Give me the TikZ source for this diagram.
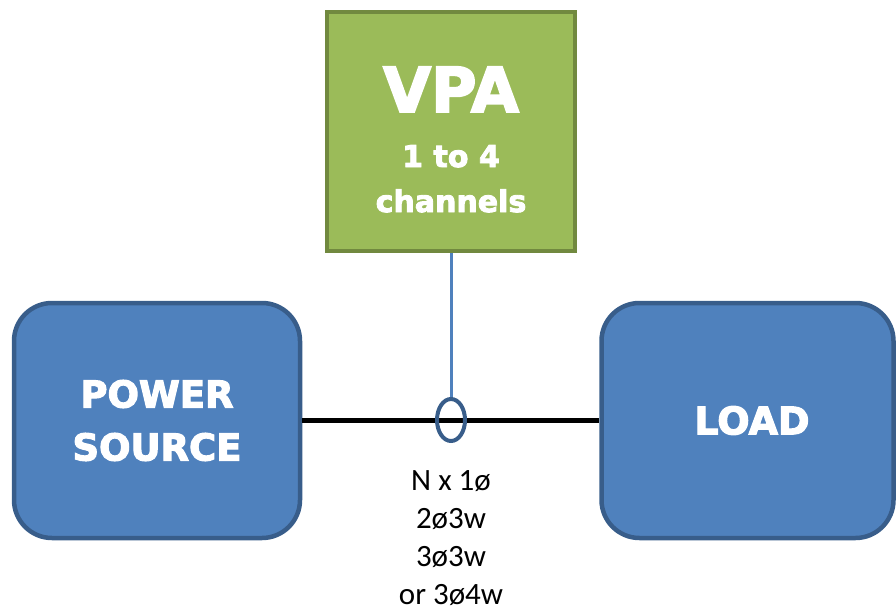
\documentclass[tikz,border=0pt]{standalone}
\usepackage{fontspec}
\setmainfont{Carlito}
\newfontfamily\blockfont{DejaVu Sans}[BoldFeatures={FakeBold=3}]
\usepackage{tikz}
\usetikzlibrary{positioning,shapes}

\definecolor{vpagreen}{HTML}{9BBB59}
\definecolor{vpaedge}{HTML}{71893F}
\definecolor{boxblue}{HTML}{4F81BD}
\definecolor{boxedge}{HTML}{385D8A}

\tikzset{
  vpabox/.style={draw=vpaedge, fill=vpagreen, line width=4.5pt, minimum width=248pt,
    minimum height=239pt, inner sep=0pt},
  vpatext/.style={text=white, inner sep=0pt, anchor=base},
  endbox/.style={draw=boxedge, fill=boxblue, line width=4.5pt, rounded corners=38pt,
    minimum height=235pt, text=white, align=center, inner sep=0pt,
    font=\blockfont\bfseries\fontsize{37}{53}\selectfont},
}

\begin{document}
\begin{tikzpicture}[x=1pt, y=-1pt]
	\useasboundingbox (0,0) rectangle (896,615);

	\node[vpabox]		(vpa)	at (451, 131.5) {};
	\node[vpatext, font=\blockfont\bfseries\fontsize{62}{62}\selectfont]	(vpaname) at (451, 112) {VPA};
	\node[vpatext, font=\blockfont\bfseries\fontsize{30}{30}\selectfont]	(vpachan) at (451, 167) {1 to 4};
	\node[vpatext, font=\blockfont\bfseries\fontsize{30}{30}\selectfont]	(vpachan2) at (451, 212) {channels};

	\node[endbox, minimum width=286pt]	(src)	at (157, 420.5) {POWER\\SOURCE};
	\node[endbox, minimum width=292pt, font=\blockfont\bfseries\fontsize{38}{53}\selectfont]	(load)	at (747.5, 420.5) {};
	\node[text=white, inner sep=0pt, font=\blockfont\bfseries\fontsize{38}{53}\selectfont]	(loadname) at (752, 420.5) {LOAD};

	\draw[line width=5pt] (src) -- (load);

	\node[draw=boxedge, line width=4pt, ellipse, minimum width=28pt, minimum height=42pt, inner sep=0pt]	(tap) at (451, 420) {};
	\draw[boxblue, line width=3pt] (vpa) -- (tap);

	% wiring options
	\node[anchor=north, inner sep=0pt, align=center, font=\fontsize{31}{38}\selectfont]	(wires) at (451, 470) {N x 1ø\\2ø3w\\3ø3w\\or 3ø4w};
\end{tikzpicture}
\end{document}
